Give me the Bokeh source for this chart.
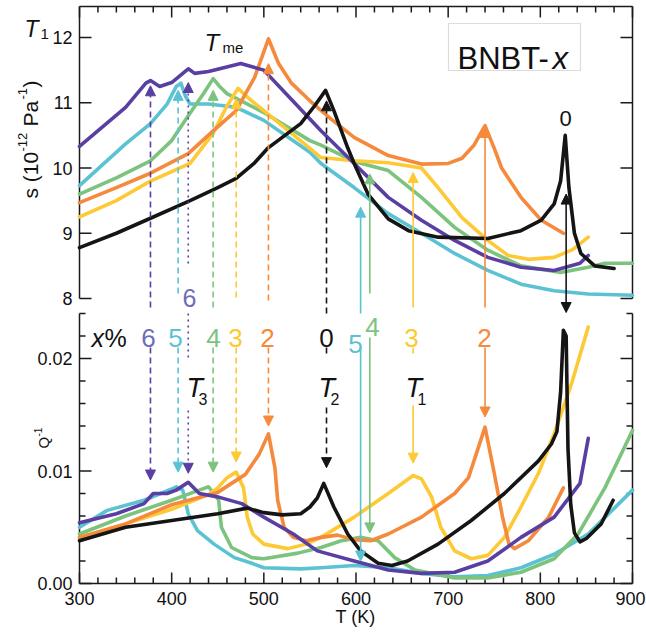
import math
from bokeh.plotting import figure
from bokeh.models import Range1d, Label, Arrow, NormalHead, BoxAnnotation
from bokeh.core.properties import value
from bokeh.embed import file_html
from bokeh.resources import INLINE

# ---------------- data ----------------
samples = ["0", "2", "3", "4", "5", "6"]
colors = {"0": "#151515", "2": "#F58A3D", "3": "#FDC935", "4": "#7CC47E",
          "5": "#5BC2D3", "6": "#5A3FA2"}

# compliance s (10^-12 Pa^-1) vs T (K)
s_T = {
    "0": [300, 340, 377, 420, 450, 470, 490, 504, 520, 540, 555, 567, 576, 591, 598, 613, 635,
          657, 689, 743, 779, 801, 815, 822, 827, 831, 837, 844, 859, 880],
    "2": [300, 340, 377, 418, 445, 470, 490, 505, 516, 530, 550, 573, 598, 635, 671, 700, 715,
          728, 740, 750, 758, 779, 801, 825],
    "3": [300, 340, 377, 420, 445, 451, 460, 472, 485, 500, 550, 562, 598, 635, 671, 689, 715,
          743, 765, 787, 815, 835, 852],
    "4": [300, 340, 377, 400, 418, 435, 445, 452, 460, 500, 550, 562, 598, 635, 671, 707, 743,
          779, 822, 852, 870, 900],
    "5": [300, 350, 377, 395, 405, 410, 415, 420, 440, 470, 500, 550, 562, 598, 635, 671, 707,
          743, 779, 815, 852, 900],
    "6": [300, 350, 372, 377, 387, 400, 418, 425, 440, 475, 500, 530, 562, 598, 635, 671, 707,
          743, 779, 815, 843, 852],
}
s_val = {
    "0": [8.78, 9.0, 9.23, 9.5, 9.7, 9.84, 10.08, 10.3, 10.47, 10.68, 10.95, 11.19, 10.88, 10.31,
          10.07, 9.6, 9.22, 9.04, 8.94, 8.92, 9.04, 9.2, 9.45, 9.8, 10.5, 9.7, 9.0, 8.69, 8.5, 8.46],
    "2": [9.47, 9.7, 9.92, 10.22, 10.57, 10.88, 11.39, 11.98, 11.6, 11.3, 11.03, 10.75, 10.47,
          10.19, 10.06, 10.07, 10.15, 10.35, 10.65, 10.3, 10.0, 9.55, 9.2, 9.0],
    "3": [9.25, 9.5, 9.8, 10.07, 10.53, 10.7, 10.95, 11.22, 11.05, 10.88, 10.3, 10.16, 10.11,
          10.08, 10.0, 9.7, 9.24, 8.89, 8.66, 8.6, 8.63, 8.75, 8.94],
    "4": [9.6, 9.85, 10.11, 10.42, 10.8, 11.15, 11.37, 11.25, 11.14, 10.85, 10.42, 10.35, 10.1,
          9.96, 9.55, 9.09, 8.74, 8.5, 8.4, 8.48, 8.54, 8.54],
    "5": [9.73, 10.37, 10.68, 10.98, 11.25, 11.3, 11.1, 10.98, 10.98, 10.93, 10.73, 10.24, 10.07,
          9.7, 9.3, 9.0, 8.69, 8.43, 8.22, 8.12, 8.07, 8.05],
    "6": [10.33, 10.93, 11.3, 11.34, 11.25, 11.31, 11.52, 11.45, 11.48, 11.6, 11.5, 11.05, 10.57,
          10.07, 9.55, 9.2, 8.89, 8.63, 8.48, 8.43, 8.54, 8.66],
}

# internal friction Q^-1 vs T (K)
q_T = {
    "0": [300, 350, 400, 450, 482, 500, 520, 540, 550, 558, 565, 576, 591, 605, 624, 639, 656,
          689, 725, 761, 798, 812, 818, 822, 825, 828, 830, 833, 837, 843, 850, 866, 879],
    "2": [300, 350, 400, 450, 480, 495, 505, 512, 515, 522, 532, 546, 562, 580, 598, 616, 635,
          671, 707, 722, 740, 750, 759, 766, 772, 787, 809, 825],
    "3": [300, 350, 400, 440, 450, 460, 470, 478, 482, 488, 500, 526, 546, 562, 598, 635, 662,
          671, 682, 692, 707, 725, 743, 761, 779, 798, 815, 834, 852],
    "4": [300, 350, 400, 430, 440, 451, 454, 465, 487, 500, 537, 562, 584, 605, 624, 642, 664,
          707, 743, 779, 815, 841, 870, 900],
    "5": [300, 330, 370, 400, 405, 412, 418, 428, 446, 468, 487, 500, 540, 562, 598, 635, 671,
          707, 743, 779, 815, 852, 900],
    "6": [300, 340, 370, 380, 395, 405, 418, 430, 450, 476, 500, 532, 558, 598, 635, 671, 707,
          743, 779, 815, 843, 852],
}
q_val = {
    "0": [0.0038, 0.005, 0.0056, 0.0062, 0.0067, 0.0063, 0.0061, 0.0062, 0.0068, 0.0076, 0.0089,
          0.0068, 0.0044, 0.0029, 0.0018, 0.0016, 0.002, 0.0035, 0.0056, 0.008, 0.0109, 0.0124,
          0.0135, 0.017, 0.0225, 0.022, 0.012, 0.007, 0.0045, 0.0037, 0.004, 0.0053, 0.0074],
    "2": [0.0041, 0.0053, 0.007, 0.0081, 0.0097, 0.0115, 0.0133, 0.0103, 0.0074, 0.005, 0.0041,
          0.0038, 0.0041, 0.0043, 0.0039, 0.0038, 0.0044, 0.0059, 0.008, 0.0094, 0.0139, 0.0098,
          0.0059, 0.0035, 0.0031, 0.0038, 0.0059, 0.0085],
    "3": [0.0041, 0.0053, 0.0066, 0.0079, 0.0085, 0.0094, 0.0099, 0.0085, 0.0059, 0.0044, 0.0035,
          0.0031, 0.0035, 0.0041, 0.0059, 0.008, 0.0096, 0.0093, 0.0077, 0.005, 0.0029, 0.0022,
          0.0025, 0.0041, 0.0068, 0.0098, 0.0133, 0.0178, 0.0228],
    "4": [0.0044, 0.006, 0.0074, 0.0083, 0.0086, 0.0074, 0.005, 0.0032, 0.0023, 0.0022, 0.0027,
          0.0032, 0.0038, 0.0041, 0.0038, 0.0023, 0.0012, 0.0005, 0.0005, 0.001, 0.0022, 0.0044,
          0.0085, 0.0136],
    "5": [0.005, 0.0065, 0.0074, 0.0084, 0.0086, 0.0083, 0.0062, 0.0047, 0.0035, 0.0023, 0.0018,
          0.0014, 0.0013, 0.0014, 0.0016, 0.0014, 0.0009, 0.0006, 0.0007, 0.0014, 0.0026, 0.0044,
          0.0083],
    "6": [0.0054, 0.0062, 0.0071, 0.008, 0.008, 0.0083, 0.009, 0.008, 0.0077, 0.0071, 0.0059,
          0.0044, 0.0029, 0.002, 0.0012, 0.0009, 0.001, 0.002, 0.0041, 0.0059, 0.0089, 0.0129],
}

# transition markers (arrows)
mark_sample = ["6", "5", "6", "4", "3", "2", "0", "5", "4", "3", "2"]
mark_T = [377, 407, 418, 445, 470, 505, 568, 605, 615, 662, 740]
mark_s_tip = [11.26, 11.19, 11.31, 11.19, 11.06, 11.60, 11.03, 9.40, 9.91, 9.93, 10.62]
mark_q_tip = [0.0092, 0.0099, 0.0098, 0.0099, 0.0108, 0.0140, 0.0103, 0.0020, 0.0045, 0.0107, 0.0148]
mark_style = ["dashed", "dashed", "dotted", "dashed", "dashed", "dashed", "dashed",
              "solid", "solid", "solid", "solid"]
t1_T0 = 828
t1_s_tip = 9.6

x_ticks = [300, 400, 500, 600, 700, 800, 900]
x_minor = [t for t in range(300, 901, 20) if t % 100]
s_ticks = [8, 9, 10, 11, 12]
q_ticks = [0.0, 0.01, 0.02]
q_minor = [round(0.002 * i, 3) for i in range(13) if i % 5]

# ---------------- geometry (pixel -> data helpers for annotation placement) ----------------
W, H = 646, 630
KX = 553 / 600.0      # px per K
KS = 65.25            # px per s unit
KQ = 11250.0          # px per Q^-1 unit


def X(px):
    return 300 + (px - 79) / KX


def S(py):
    return 12 - (py - 37) / KS


def Q(py):
    return (583 - py) / KQ


FONT = "Liberation Sans"
AX = "#1a1a1a"
dash_map = {"dashed": "6 4", "dotted": "2 4", "solid": "solid"}
label6 = "#6F6DB8"

p = figure(width=W, height=H, x_range=Range1d(X(0), X(W)), y_range=Range1d(Q(H), Q(0)),
           x_axis_location=None, y_axis_location=None, output_backend="svg",
           toolbar_location=None, min_border=0)
p.extra_y_ranges = {"s": Range1d(S(H), S(0))}
p.outline_line_color = None
p.grid.visible = False
p.background_fill_color = "white"
p.border_fill_color = "white"

# ---------------- frames, ticks, tick labels ----------------
S_FRAME_TOP = S(6)
Q_FRAME_TOP = 0.024
seg = dict(line_color=AX, line_width=1.5)
tick_font = dict(text_font=value(FONT), text_font_size=value("18px"), text_color="#111111")

# top panel frame (left, right, top)
p.segment(x0=[300, 900, 300], y0=[8, 8, S_FRAME_TOP], x1=[300, 900, 900],
          y1=[S_FRAME_TOP, S_FRAME_TOP, S_FRAME_TOP], y_range_name="s", **seg)
p.segment(x0=[300] * len(s_ticks) + [900] * len(s_ticks), y0=s_ticks * 2,
          x1=[X(91)] * len(s_ticks) + [X(620)] * len(s_ticks), y1=s_ticks * 2,
          y_range_name="s", **seg)
p.segment(x0=x_ticks, y0=[S_FRAME_TOP] * len(x_ticks), x1=x_ticks,
          y1=[S(6 + 11)] * len(x_ticks), y_range_name="s", **seg)
p.segment(x0=x_minor, y0=[S_FRAME_TOP] * len(x_minor), x1=x_minor,
          y1=[S(6 + 6)] * len(x_minor), y_range_name="s", **seg)
p.text(x=[X(72)] * len(s_ticks), y=s_ticks, text=[str(v) for v in s_ticks],
       text_align="right", text_baseline="middle", y_range_name="s", **tick_font)

# bottom panel frame (left, right, bottom)
p.segment(x0=[300, 900, 300], y0=[0, 0, 0], x1=[300, 900, 900],
          y1=[Q_FRAME_TOP, Q_FRAME_TOP, 0], **seg)
p.segment(x0=[300] * len(q_ticks) + [900] * len(q_ticks), y0=q_ticks * 2,
          x1=[X(91)] * len(q_ticks) + [X(620)] * len(q_ticks), y1=q_ticks * 2, **seg)
p.segment(x0=[300] * len(q_minor) + [900] * len(q_minor), y0=q_minor * 2,
          x1=[X(85)] * len(q_minor) + [X(626)] * len(q_minor), y1=q_minor * 2, **seg)
p.segment(x0=x_ticks, y0=[0] * len(x_ticks), x1=x_ticks, y1=[Q(583 - 11)] * len(x_ticks), **seg)
p.segment(x0=x_minor, y0=[0] * len(x_minor), x1=x_minor, y1=[Q(583 - 6)] * len(x_minor), **seg)
p.text(x=[X(72)] * len(q_ticks), y=q_ticks, text=[f"{v:.2f}" for v in q_ticks],
       text_align="right", text_baseline="middle", **tick_font)
p.text(x=x_ticks[:-1], y=[Q(591)] * (len(x_ticks) - 1), text=[str(v) for v in x_ticks[:-1]],
       text_align="center", text_baseline="top", **tick_font)
# last tick label kept inside the page edge
p.text(x=[X(645)], y=[Q(591)], text=[str(x_ticks[-1])],
       text_align="right", text_baseline="top", **tick_font)

# ---------------- curves ----------------
draw_order = ["5", "4", "3", "2", "6", "0"]
for k in draw_order:
    p.line(s_T[k], s_val[k], line_color=colors[k], line_width=3.6,
           line_join="round", line_cap="round", y_range_name="s")
    p.line(q_T[k], q_val[k], line_color=colors[k], line_width=3.6,
           line_join="round", line_cap="round")

# ---------------- arrows ----------------
top_from = [S(307), S(293), S(263), S(307), S(297), S(300), S(313), S(313), S(293), S(307), S(307)]
bot_from = [Q(347), Q(347), Q(410), Q(347), Q(347), Q(347), Q(407), Q(347), Q(337), Q(405), Q(347)]


def head(c):
    return NormalHead(size=10, fill_color=c, line_color=c, line_width=1)


for k, T, st, qt, sty, sf, qf in zip(mark_sample, mark_T, mark_s_tip, mark_q_tip, mark_style,
                                     top_from, bot_from):
    c = colors[k]
    p.add_layout(Arrow(x_start=T, y_start=sf, x_end=T, y_end=st, end=head(c), y_range_name="s",
                       line_color=c, line_width=1.6, line_dash=dash_map[sty]))
    p.add_layout(Arrow(x_start=T, y_start=qf, x_end=T, y_end=qt, end=head(c),
                       line_color=c, line_width=1.6, line_dash=dash_map[sty]))

extra = [("6", 418, "dotted", Q(313), Q(357)), ("0", 568, "dashed", Q(347), Q(357)),
         ("3", 662, "dashed", Q(347), Q(357))]
for k, T, sty, q0, q1 in extra:
    p.line([T, T], [q0, q1], line_color=colors[k], line_width=1.6, line_dash=dash_map[sty])

p.add_layout(Arrow(x_start=t1_T0, y_start=S(312), x_end=t1_T0, y_end=t1_s_tip, y_range_name="s",
                   start=head(colors["0"]), end=head(colors["0"]),
                   line_color=colors["0"], line_width=1.6))


# ---------------- texts ----------------
def lab(x, y, text, size, color="#111111", italic=False, align="left",
        baseline="alphabetic", angle=0, rng="default"):
    p.add_layout(Label(x=x, y=y, text=text, text_font=FONT, text_font_size=size,
                       text_color=color, text_font_style="italic" if italic else "normal",
                       text_align=align, text_baseline=baseline, angle=angle,
                       y_range_name=rng))


# top panel
lab(X(24), S(28), "T", "23px", italic=True, rng="s")
lab(X(40), S(33), "1", "15px", rng="s")
lab(X(204), S(42), "T", "24px", italic=True, rng="s")
lab(X(222), S(47), "me", "15px", rng="s")
p.add_layout(BoxAnnotation(left=X(448), right=X(580), top=S(23), bottom=S(70),
                           fill_color="white", fill_alpha=1.0, line_color="#8a8a8a",
                           line_width=1.2, y_range_name="s"))
lab(X(457), S(58), "BNBT-", "31px", rng="s")
lab(X(552), S(58), "x", "31px", italic=True, rng="s")
lab(X(565), S(118), "0", "22px", align="center", rng="s")
lab(X(189), S(297), "6", "25px", color=label6, align="center", rng="s")

# rotated y-axis title of the upper panel, built from pieces: s (10^-12 Pa^-1)
R = math.pi / 2
for txt, size, bx, start in [("s (10", "21px", 30, 198), ("-12", "13px", 22, 151),
                             ("Pa", "21px", 30, 126), ("-1", "13px", 22, 99),
                             (")", "21px", 30, 87)]:
    lab(X(bx), S(start), txt, size, angle=R, rng="s")

# lower panel
lab(X(91), Q(337), "x", "25px", italic=True)
lab(X(104), Q(337), "%", "25px")
row_labels = [("6", 148, 337, label6), ("5", 175, 337, colors["5"]),
              ("4", 213, 337, colors["4"]), ("3", 235, 337, colors["3"]),
              ("2", 267, 337, colors["2"]), ("0", 326, 337, colors["0"]),
              ("5", 355, 343, colors["5"]), ("4", 372, 326, colors["4"]),
              ("3", 411, 337, colors["3"]), ("2", 484, 337, colors["2"])]
for t, px, py, c in row_labels:
    lab(X(px), Q(py), t, "26px", color=c, align="center")

for sub, px in [("3", 186), ("2", 318), ("1", 405)]:
    lab(X(px), Q(387), "T", "27px", italic=True)
    lab(X(px + 12), Q(398), sub, "16px")

# rotated y-axis title of the lower panel: Q^-1
lab(X(43), Q(448), "Q", "15px", angle=R)
lab(X(37), Q(436), "-1", "10px", angle=R)
lab(X(355), Q(616), "T (K)", "18px", align="center", baseline="middle")

open("out.html", "w").write(file_html(p, INLINE))
